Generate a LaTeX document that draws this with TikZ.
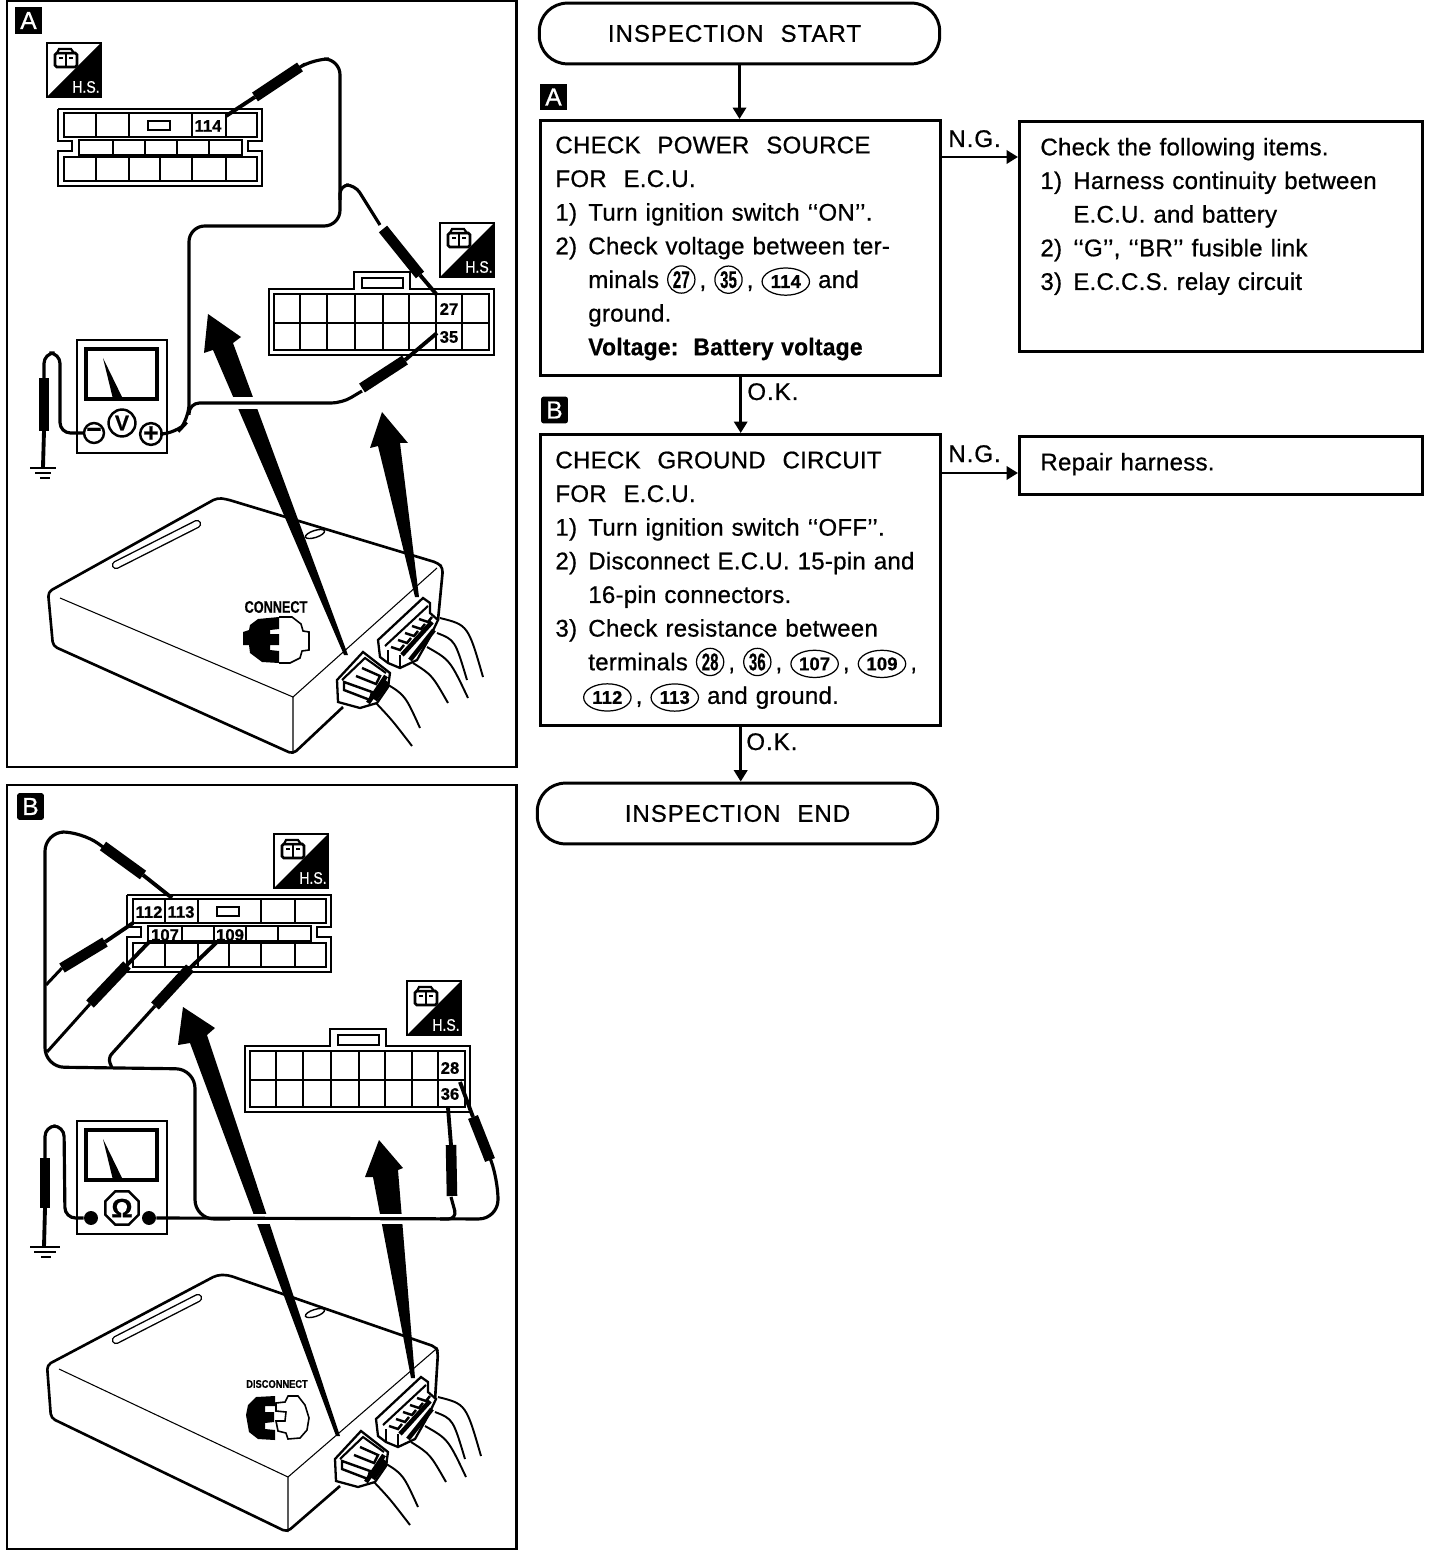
\documentclass[tikz,border=0pt]{standalone}
\usepackage{fontspec}
\setmainfont{Liberation Sans}[FakeBold=0.7]
\usetikzlibrary{arrows.meta,shapes.geometric}
\newdimen\px
\px=0.56693pt
\newcommand{\termc}[1]{\tikz[baseline=(n.base)]\node[circle,draw,line width=0.7pt,inner sep=0pt,minimum size=15.5pt] (n) {\scalebox{0.62}[1]{\bfseries #1}};}
\newcommand{\termo}[1]{\tikz[baseline=(n.base)]\node[ellipse,draw,line width=0.7pt,inner sep=0pt,minimum width=27pt,minimum height=15.5pt] (n) {\fontsize{10.5}{11}\selectfont\bfseries #1};}
\newcommand{\itm}[2]{\makebox[33\px][l]{#1}#2}
\newcommand{\gapw}{\hspace{9.6pt}}
\newcommand{\headtxt}[1]{{\addfontfeature{LetterSpace=4}#1}}
\tikzset{
    frameline/.style={line width=1.7pt},
    flowbox/.style={draw, line width=1.7pt, anchor=north west, inner ysep=0pt, inner xsep=15*\px, text width=372*\px, align=left, font=\fontsize{13.7}{19.15}\selectfont\addfontfeature{LetterSpace=1}},
    termbox/.style={draw, line width=1.7pt, rounded corners=16pt, inner sep=0pt, minimum width=402*\px, minimum height=61*\px, font=\fontsize{13.7}{16}\selectfont},
    flow/.style={line width=1.6pt, -{Triangle[length=6.5pt,width=7.5pt]}},
    flowlabel/.style={anchor=base west, inner sep=0pt, font=\fontsize{13.7}{16}\selectfont\addfontfeature{LetterSpace=4}},
    badge/.style={fill=black, text=white, inner sep=0pt, minimum size=27*\px, font=\fontsize{14}{16}\selectfont},
    pinlabel/.style={inner sep=0pt, font=\fontsize{9.5}{10}\selectfont\bfseries},
    conline/.style={line width=1.3pt},
    cell/.style={line width=1.2pt},
    wire/.style={line width=1.8pt, rounded corners=11pt},
    probebody/.style={line width=6pt},
    probetip/.style={line width=2.2pt},
    thinedge/.style={line width=0.6pt},
    bodyline/.style={line width=1.5pt, line join=round, rounded corners=2.5pt},
    meterkey/.style={circle, draw, line width=1.4pt, inner sep=0pt, fill=white, font=\fontsize{15}{15}\selectfont\bfseries},
    hsmark/.pic={
        \draw[line width=1.3pt, fill=white] (0,0) rectangle (54,54);
        \fill (54,0) -- (54,54) -- (0,54) -- cycle;
        \draw[line width=1.5pt, fill=white, rounded corners=1pt] (8,10) rectangle (30,24);
        \draw[line width=1.2pt, fill=white] (12,6) -- (24,6) -- (27,10) -- (10,10) -- cycle;
        \draw[line width=1.1pt] (19,10) -- (19,24) (12,15) -- (16,15) (22,15) -- (26,15);
        \node[text=white, inner sep=0pt, font=\fontsize{9.5}{10}\selectfont] (-txt) at (39,44) {\scalebox{0.84}[1]{H.S.}};
    },
    upperconn/.pic={
        \draw[conline] (0,0) -| (204,32) -| (190,42) -| (204,77) -| (0,42) -| (14,32) -| (0,0);
        \foreach \a/\b in {6/38,38/71,71/134,134/168,168/199} {
            \draw[cell] (\a,4) rectangle (\b,28);
        }
        \foreach \a/\b in {21/55,55/87,87/119,119/151,151/184} {
            \draw[cell] (\a,31) rectangle (\b,46);
        }
        \foreach \a/\b in {6/38,38/71,71/102,102/134,134/168,168/199} {
            \draw[cell] (\a,48) rectangle (\b,72);
        }
        \draw[cell, line width=1.4pt] (90,12) rectangle (112,21);
    },
    lowerconn/.pic={
        \draw[conline] (0,0) -- (85,0) -- (85,-17) -- (141,-17) -- (141,0) -- (225,0) -- (225,66) -- (0,66) -- cycle;
        \draw[cell] (93,-11) rectangle (134,-1);
        \draw[cell] (5,5) rectangle (220,61);
        \draw[cell] (5,34) -- (220,34);
        \foreach \x in {31,58,86,114,140,167,193} {
            \draw[cell] (\x,5) -- (\x,61);
        }
    },
    meter/.pic={
        \draw[line width=1.5pt] (0,0) rectangle (90,113);
        \draw[line width=1.8pt] (9,9) rectangle (80,59);
        \fill (26,18) -- (46,59) -- (36,59) -- cycle;
    },
    % both connectors on the side of the box, with their wires
    plugs/.pic={
        \draw[line width=1.3pt, fill=white] (378,640) -- (423,598) -- (430,603) -- (430,613) -- (438,620) -- (430,637) -- (417,660) -- (400,668) -- (388,663) -- (380,657) -- cycle;
        \draw[cell] (385,646) -- (428,606);
        \foreach \i in {0,...,4} {
            \draw[line width=1.4pt] (391+7*\i,647-7*\i) -- ++(9,3) -- ++(4,-5);
        }
        \draw[line width=2.6pt] (402,655) -- (432,622) (410,660) -- (434,630);
        \draw[cell] (388,650) -- (388,663) (400,655) -- (400,668);
        \draw[line width=1.3pt, fill=white] (337,680) -- (363,652) -- (390,673) -- (388,687) -- (377,703) -- (360,708) -- (338,702) -- cycle;
        \draw[cell] (342,680) -- (365,658) -- (386,673);
        \draw[line width=1.4pt] (344,682) -- (372,692) -- (370,700) -- (344,690) -- cycle;
        \draw[line width=1.4pt] (362,668) -- (380,676) -- (376,684) -- (356,676);
        \draw[line width=2.6pt] (368,703) -- (386,676) (375,700) -- (388,682);
        \foreach \a/\b/\c/\d/\e/\f in {385/683/405/695/420/728, 376/703/392/720/412/746, 440/618/468/625/483/677, 437/633/455/640/467/680, 427/647/450/660/468/698, 413/663/432/675/448/703} {
            \draw[line width=1.1pt] (\a,\b) .. controls (\c,\d) .. (\e,\f);
        }
    }
}
\begin{document}
\begin{tikzpicture}[x=0.02cm, y=-0.02cm]
    \useasboundingbox (0,0) rectangle (1440,1550);

    % panel A
    \draw[frameline] (7,1) rectangle (516,767);
    \node[badge] (panelbadgeA) at (28.5,20.5) {A};
    \pic (hsA) at (47,43) {hsmark};
    \pic (hsB) at (440,223) {hsmark};
    \pic (connA) at (58,109) {upperconn};
    \pic (connB) at (269,289) {lowerconn};
    \node[pinlabel] (p114) at (208,126) {114};
    \node[pinlabel] (p27) at (449,309) {27};
    \node[pinlabel] (p35) at (449,337) {35};
    \draw[bodyline] (343,707) -- (293,754) -- (53,646) -- (48,592) -- (217,498) -- (226,499) -- (438,563) -- (443,568) -- (438,620);
    \draw[thinedge] (60,598) -- (293,697) -- (293,752);
    \draw[thinedge] (293,697) -- (437,568);
    \draw[line width=0.8pt, double, double distance=3.2pt, line cap=round] (116,565) -- (197,524);
    \draw[line width=0.8pt, rotate around={18:(315,534)}] (315,534) ellipse (10 and 3.5);
    \pic at (0,0) {plugs};
    \node[inner sep=0pt, font=\fontsize{9.5}{10}\selectfont\bfseries] (connectA) at (276,607) {\scalebox{0.76}[1]{CONNECT}};
    \draw[line width=0.9pt, fill=white] (279,617) -- (292,617) -- (301,624) -- (303,631) -- (309,632) -- (309,650) -- (302,651) -- (300,658) -- (290,663) -- (279,663);
    \fill (243,632) -- (249,630) -- (250,625) -- (258,619) -- (279,617) -- (279,629) -- (270,630) -- (270,634) -- (279,634) -- (279,645) -- (270,645) -- (270,650) -- (279,651) -- (279,663) -- (262,662) -- (250,653) -- (249,645) -- (243,645) -- cycle;
    \fill (208,314) -- (241,337) -- (233,343) -- (348,655) -- (344,655) -- (213,350) -- (204,353) -- cycle;
    \fill (382,412) -- (408,443) -- (400,443) -- (419,597) -- (415,597) -- (378,446) -- (370,448) -- cycle;
    \draw[white, line width=7pt] (198,403) -- (342,403);
    \pic (meterA) at (77,340) {meter};
    \node[meterkey, minimum size=20*\px] (minusA) at (94,433) {−};
    \node[meterkey, minimum size=27*\px, font=\fontsize{12}{12}\selectfont\bfseries] (voltA) at (122,423) {V};
    \node[meterkey, minimum size=20*\px] (plusA) at (151,434) {+};
    \draw[wire, rounded corners=9pt] (plusA.east) -- (176,434) -- (189,420) -- (189,226) -- (340,226) -- (340,59) -- (313,59) -- (305,64);
    \draw[wire, rounded corners=5pt] (340,200) -- (340,185) -- (355,185) -- (380,225);
    \draw[wire, rounded corners=6pt] (189,415) -- (189,403) -- (342,403) -- (362,391);
    \draw[wire, rounded corners=6pt] (minusA.west) -- (60,433) -- (60,353) -- (44,353) -- (44,380);
    \foreach \tx/\ty/\ax/\ay/\bx/\by in {226/116/255/97/300/67, 437/295/420/275/383/229, 437/333/405/360/362/388, 43/467/44/431/44/378} {
        \draw[probetip] (\tx,\ty) -- (\ax,\ay);
        \draw[probebody] (\ax,\ay) -- (\bx,\by);
    }
    \draw[line width=1.5pt] (30,468) -- (56,468) (35,473) -- (51,473) (40,478) -- (50,478);

    % panel B
    \draw[frameline] (7,785) rectangle (516,1549);
    \node[badge, rounded corners=1.5pt] (panelbadgeB) at (30.5,806.5) {B};
    \pic (hsC) at (274,834) {hsmark};
    \pic (hsD) at (407,981) {hsmark};
    \pic (connC) at (127,895) {upperconn};
    \pic (connD) at (245,1046) {lowerconn};
    \node[pinlabel] (p112) at (149,912) {112};
    \node[pinlabel] (p113) at (181,912) {113};
    \node[pinlabel] (p107) at (165,935) {107};
    \node[pinlabel] (p109) at (230,935) {109};
    \node[pinlabel] (p28) at (450,1068) {28};
    \node[pinlabel] (p36) at (450,1094) {36};
    \draw[bodyline] (340,1486) -- (287,1532) -- (51,1418) -- (47,1365) -- (217,1275) -- (228,1275) -- (436,1347) -- (438,1352) -- (435,1400);
    \draw[thinedge] (59,1369) -- (288,1477) -- (288,1532);
    \draw[thinedge] (288,1477) -- (435,1350);
    \draw[line width=0.8pt, double, double distance=3.2pt, line cap=round] (116,1340) -- (198,1298);
    \draw[line width=0.8pt, rotate around={18:(315,1313)}] (315,1313) ellipse (10 and 3.5);
    \pic at (-2,779) {plugs};
    \node[inner sep=0pt, font=\fontsize{6.3}{7}\selectfont\bfseries] (connectB) at (277,1384) {\scalebox{0.84}[1]{DISCONNECT}};
    \draw[line width=0.9pt, fill=white] (288,1396) -- (298,1396) -- (305,1405) -- (309,1418) -- (307,1430) -- (300,1438) -- (288,1439) -- (286,1433) -- (278,1431) -- (276,1421) -- (285,1421) -- (286,1412) -- (276,1411) -- (276,1403) -- (285,1402) -- cycle;
    \fill (246,1415) -- (248,1405) -- (256,1397) -- (275,1396) -- (275,1406) -- (265,1406) -- (265,1412) -- (274,1412) -- (274,1422) -- (265,1423) -- (265,1429) -- (275,1430) -- (275,1440) -- (258,1439) -- (249,1432) -- cycle;
    \fill (183,1007) -- (215,1028) -- (207,1035) -- (340,1436) -- (336,1436) -- (190,1043) -- (178,1045) -- cycle;
    \fill (379,1140) -- (403,1168) -- (398,1170) -- (415,1378) -- (411,1378) -- (373,1177) -- (365,1177) -- cycle;
    \draw[white, line width=6pt] (218,1219) -- (470,1219);
    \pic (meterB) at (77,1121) {meter};
    \node[circle, fill, inner sep=0pt, minimum size=14*\px] (minusB) at (91,1218) {};
    \node[circle, fill, inner sep=0pt, minimum size=14*\px] (plusB) at (149,1218) {};
    \node[meterkey, regular polygon, regular polygon sides=8, minimum size=36*\px] (ohmB) at (122,1208) {Ω};
    \draw[wire] (plusB.east) -- (498,1219) -- (498,1180) -- (490,1158);
    \draw[wire, rounded corners=5pt] (451,1197) -- (457,1219) -- (440,1219);
    \draw[wire] (230,1219) -- (195,1219) -- (195,1069) -- (45,1067) -- (45,832) -- (82,832) -- (103,847);
    \draw[line width=1.7pt] (46,985) -- (62,968) (47,1052) -- (90,1004);
    \draw[wire, rounded corners=3pt] (112,1068) -- (108,1058) -- (155,1006);
    \draw[wire, rounded corners=6pt] (minusB.west) -- (65,1218) -- (64,1126) -- (45,1126) -- (45,1160);
    \foreach \tx/\ty/\ax/\ay/\bx/\by in {172/898/143/875/103/846, 133/923/105/942/62/968, 149/942/127/965/90/1004, 217/942/190/968/155/1006, 460/1082/473/1117/490/1160, 448/1108/451/1145/452/1196, 44/1247/45/1208/45/1158} {
        \draw[probetip] (\tx,\ty) -- (\ax,\ay);
        \draw[probebody] (\ax,\ay) -- (\bx,\by);
    }
    \draw[line width=1.5pt] (30,1247) -- (60,1247) (34,1252) -- (56,1252) (41,1257) -- (51,1257);

    % flow chart
    \node[termbox] (start) at (739.5,33.5) {\hspace*{-10\px}\headtxt{INSPECTION\gapw START}};
    \node[badge] (badgeA) at (553.5,97) {A};
    \node[flowbox, text height=33*\px, text depth=223*\px] (checkA) at (539,119) {CHECK\gapw POWER\gapw SOURCE\\
        FOR\gapw E.C.U.\\
        \itm{1)}{Turn ignition switch ‘‘ON’’.}\\
        \itm{2)}{Check voltage between ter-}\\
        \itm{}{minals \termc{27}\,, \termc{35}\,, \termo{114} and}\\
        \itm{}{ground.}\\
        \itm{}{\scalebox{0.95}[1]{\textbf{Voltage:\hspace{9pt}Battery voltage}}}};
    \node[flowbox, inner xsep=21*\px, text width=363*\px, text height=34*\px, text depth=197*\px] (items) at (1018,120) {Check the following items.\\
        \itm{1)}{Harness continuity between}\\
        \itm{}{E.C.U. and battery}\\
        \itm{2)}{‘‘G’’, ‘‘BR’’ fusible link}\\
        \itm{3)}{E.C.C.S. relay circuit}};
    \node[badge, rounded corners=1.5pt] (badgeB) at (554.5,410) {B};
    \node[flowbox, text height=34*\px, text depth=258*\px] (checkB) at (539,433) {CHECK\gapw GROUND\gapw CIRCUIT\\
        FOR\gapw E.C.U.\\
        \itm{1)}{Turn ignition switch ‘‘OFF’’.}\\
        \itm{2)}{Disconnect E.C.U. 15-pin and}\\
        \itm{}{16-pin connectors.}\\
        \itm{3)}{Check resistance between}\\
        \itm{}{terminals \termc{28}\,, \termc{36}\,, \termo{107}\,, \termo{109}\,,}\\
        \itm{}{\hspace{-3pt}\termo{112}\,, \termo{113} and ground.}};
    \node[flowbox, inner xsep=21*\px, text width=363*\px, text height=34*\px, text depth=24*\px] (repair) at (1018,435) {Repair harness.};
    \node[termbox] (finish) at (737.5,813.5) {\headtxt{INSPECTION\gapw END}};

    \coordinate (ngA) at (941,157);
    \coordinate (ngB) at (941,473);
    \draw[flow] (start.south) -- (start.south |- checkA.north);
    \draw[flow] (checkA.south) -- (checkA.south |- checkB.north);
    \draw[flow] (checkB.south) -- (checkB.south |- finish.north);
    \draw[flow] (ngA) -- (ngA -| items.west);
    \draw[flow] (ngB) -- (ngB -| repair.west);
    \node[flowlabel] (okA) at (747,400) {O.K.};
    \node[flowlabel] (okB) at (746,750) {O.K.};
    \node[flowlabel] (noA) at (948,147) {N.G.};
    \node[flowlabel] (noB) at (948,462) {N.G.};
\end{tikzpicture}
\end{document}
